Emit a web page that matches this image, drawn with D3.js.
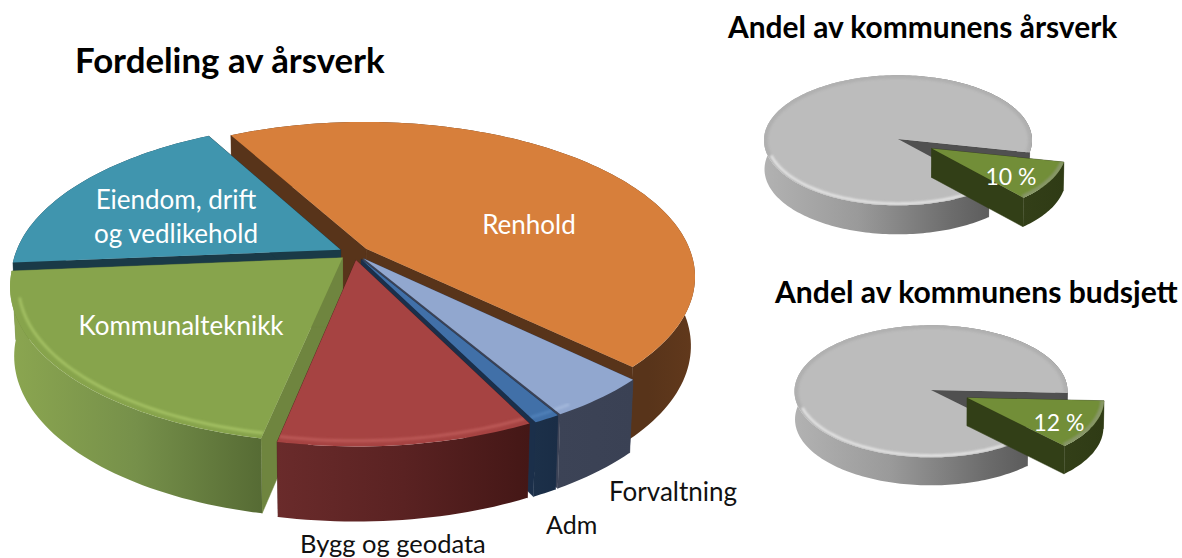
<!DOCTYPE html>
<html><head><meta charset="utf-8">
<script src="https://cdn.jsdelivr.net/npm/d3@7"></script>
<style>html,body{margin:0;background:#fff}svg{display:block}text{font-family:Lato,"Open Sans",sans-serif}</style>
</head><body><svg id="c" width="1182" height="558"></svg>
<script>
// ---- data ----
const categories = ["Renhold","Forvaltning","Adm","Bygg og geodata","Kommunalteknikk","Eiendom, drift og vedlikehold"];
const shares = [45.3,4.35,1.1,10.55,20.5,18.5];
const sliceColors = ["#d77f3b","#91a7cf","#4170a8","#a64342","#87a44c","#4095ae"];
const edgeColors  = ["#58341a","#3c4356","#1b2f4a","#4a1b1b","#6f853f","#1a3a47"];
const wallStops = [
  [[0,"#58341a"],[.9,"#58341a"],[1,"#62391c"]],
  [[0,"#3c4356"],[1,"#3a4154"]],
  [[0,"#1c3049"],[1,"#1a2d46"]],
  [[0,"#6a2b2b"],[.5,"#5a2222"],[1,"#441716"]],
  [[0,"#8ba650"],[.5,"#76904a"],[1,"#566b34"]],
  [[0,"#1a3a47"],[1,"#1a3a47"]]
];
const rimColors = ["#dd8a48","#a3b7da","#5080b8","#bb5856","#a2bf62","#58a9c2"];
const drawOrder = [0,5,1,2,4,3];

const ksArsverk = [10,90], ksBudsjett = [12,88];
const ksNames = ["Teknisk","Resten av kommunen"];

const mainLayout = {cx:354,cy:253,R:325,Rs:150.6,p:.177,D:68,dk:.1,sh:.012,start:331.5,explode:[.047,.047,.047,.047,.047,.047]};
const small1 = {cx:898,cy:139,R:134,Rs:65,p:.02,D:29,dk:0,sh:.004,start:102,explode:[.29,0]};
const small2 = {cx:931,cy:390,R:136.5,Rs:66,p:.02,D:28,dk:0,sh:.004,start:92.5,explode:[.29,0]};

const smallColors = ["#728e38","#bcbcbc"];
const smallEdges = ["#323f17","#505050"];
const smallWalls = [
  [[0,"#333f18"],[1,"#2f3b15"]],
  [[0,"#b2b2b2"],[.35,"#9a9a9a"],[.7,"#6c6c6c"],[1,"#4c4c4c"]]
];
const smallRims = ["#8aa24c","#e4e4e4"];

const titles = [
 {t:"Fordeling av årsverk",x:75,y:73,s:34.8},
 {t:"Andel av kommunens årsverk",x:728,y:38,s:29.9},
 {t:"Andel av kommunens budsjett",x:775,y:303,s:30.1}
];
const labels = [
 {t:"Renhold",x:529,y:234,c:"#fff",a:"middle",s:26},
 {t:"Eiendom, drift",x:176,y:209,c:"#fff",a:"middle",s:26},
 {t:"og vedlikehold",x:176,y:243,c:"#fff",a:"middle",s:26},
 {t:"Kommunalteknikk",x:181,y:335,c:"#fff",a:"middle",s:26},
 {t:"Forvaltning",x:609,y:501,c:"#111",a:"start",s:26},
 {t:"Adm",x:546,y:534,c:"#111",a:"start",s:25},
 {t:"Bygg og geodata",x:300,y:553,c:"#111",a:"start",s:25.5},
 {t:"10 %",x:1011,y:185,c:"#fff",a:"middle",s:23},
 {t:"12 %",x:1059,y:431,c:"#fff",a:"middle",s:23}
];

// ---- drawing ----
const svg = d3.select("#c");
const defs = svg.append("defs");
defs.append("filter").attr("id","soft").attr("x","-10%").attr("y","-10%").attr("width","120%").attr("height","120%")
  .append("feGaussianBlur").attr("stdDeviation",1.1);
let uid = 0;
function gradient(stops){
  const id = "g"+(uid++);
  const g = defs.append("linearGradient").attr("id",id).attr("x1",0).attr("x2",1).attr("y1",0).attr("y2",0);
  stops.forEach(s=>g.append("stop").attr("offset",s[0]).attr("stop-color",s[1]));
  return `url(#${id})`;
}
const line = d3.line();
const rad = d3.scaleLinear().domain([0,360]).range([0,2*Math.PI]);

function drawPie(L, values, colors, edges, walls, rims, order, rimW, rimBack){
  const arcs = d3.pie().sort(null)
    .startAngle(rad(L.start)).endAngle(rad(L.start+360))(values);
  function proj(a,r,level,mid,e){
    const u = r*Math.sin(a)+e*Math.sin(mid), v = -r*Math.cos(a)-e*Math.cos(mid);
    const w = 1/(1-L.p*v);
    let x = L.cx+L.R*u*w, y = L.cy+L.Rs*v*w;
    if(level){ x = L.cx+(x-L.cx)*(1-L.sh); y += L.D*(1+L.dk*v); }
    return [x,y];
  }
  order.forEach(i=>{
    const d = arcs[i], mid=(d.startAngle+d.endAngle)/2, e=L.explode[i];
    const n = Math.max(6,Math.ceil((d.endAngle-d.startAngle)*40));
    const angs = d3.range(n+1).map(k=>d.startAngle+(d.endAngle-d.startAngle)*k/n);
    const P=(a,r,l)=>proj(a,r,l,mid,e);
    const g = svg.append("g").attr("class","slice");
    [d.startAngle,d.endAngle].forEach(a=>{
      g.append("path").attr("d",line([P(a,0,0),P(a,1,0),P(a,1,1),P(a,0,1)])+"Z")
       .attr("fill",edges[i]).attr("stroke",edges[i]).attr("stroke-width",.5);
    });
    const top = angs.map(a=>P(a,1,0)), bot = angs.map(a=>P(a,1,1)).reverse();
    g.append("path").attr("d",line(top.concat(bot))+"Z").attr("fill",gradient(walls[i]));
    const face = [P(0,0,0)].concat(top);
    const clip = "cl"+(uid++);
    defs.append("clipPath").attr("id",clip).append("path").attr("d",line(face)+"Z");
    g.append("path").attr("d",line(face)+"Z").attr("fill",colors[i]);
    const rg = g.append("g").attr("clip-path",`url(#${clip})`);
    if(rimBack){
      rg.append("path").attr("d",line(angs.map(a=>P(a,.99,0))))
        .attr("fill","none").attr("stroke",rimBack).attr("stroke-width",rimW+2).attr("filter","url(#soft)").attr("opacity",.45);
    }
    const rimLine = d3.line().defined(p=>p.ok);
    const rimPts = angs.map(a=>{const q=P(a,.975,0);q.ok=Math.cos(a)<-.25&&Math.sin(a)<.55;return q;});
    rg.append("path").attr("d",rimLine(rimPts))
      .attr("fill","none").attr("stroke",rims[i]).attr("stroke-width",rimW).attr("filter","url(#soft)");
  });
}
drawPie(mainLayout,shares,sliceColors,edgeColors,wallStops,rimColors,drawOrder,3,null);
drawPie(small1,ksArsverk,smallColors,smallEdges,smallWalls,smallRims,[1,0],3,"#a2a2a2");
drawPie(small2,ksBudsjett,smallColors,smallEdges,smallWalls,smallRims,[1,0],3,"#a2a2a2");

svg.selectAll("text.title").data(titles).join("text").attr("class","title")
  .attr("x",d=>d.x).attr("y",d=>d.y).attr("font-size",d=>d.s).attr("font-weight",700).attr("fill","#000").text(d=>d.t);
svg.selectAll("text.lab").data(labels).join("text").attr("class","lab")
  .attr("x",d=>d.x).attr("y",d=>d.y).attr("text-anchor",d=>d.a).attr("font-size",d=>d.s).attr("fill",d=>d.c).text(d=>d.t);
</script></body></html>
